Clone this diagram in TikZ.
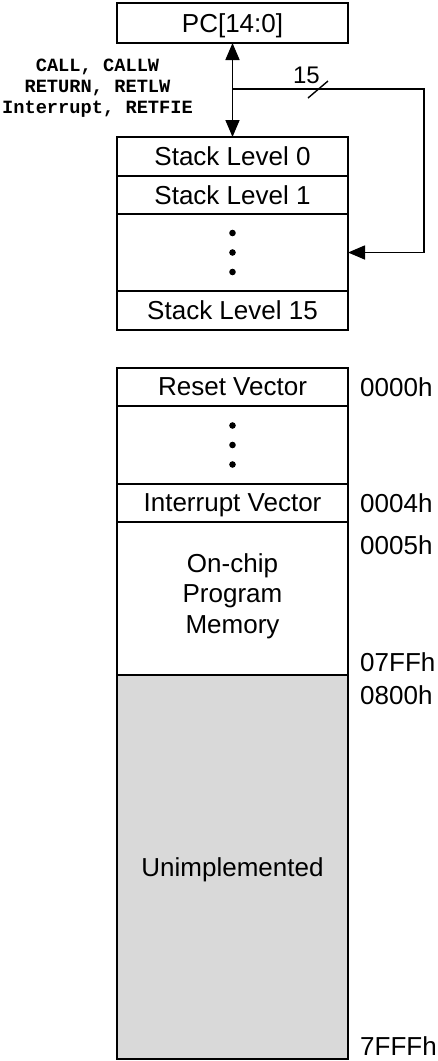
\documentclass[tikz,border=0pt]{standalone}
\usepackage{fontspec}
\setmainfont{Liberation Sans}
\newfontfamily\codefont{Liberation Mono}
\usetikzlibrary{arrows.meta,positioning}
\definecolor{unimplgray}{RGB}{217,217,217}
\definecolor{linecol}   {RGB}{  0,  0,  0}
\tikzset{
  %% One cell of the stack or of the memory map
  cell/.style={
    rectangle, draw=linecol, line width=1.8pt,
    minimum width=231pt, inner sep=0pt, outer sep=0pt,
    text depth=0pt, align=center,
    font=\fontsize{26}{27}\selectfont
  },
  %% Address label to the right of the map
  addr/.style={inner sep=0pt, text depth=0pt,
    font=\fontsize{26}{27}\selectfont},
  wire/.style={draw=linecol, line width=1.6pt},
  tip/.style={-{Triangle[length=17pt,width=14pt]}},
  instr/.style={align=center, inner sep=0pt,
    font=\codefont\bfseries\fontsize{18.7}{21}\selectfont},
  stackdot/.style={fill=linecol},
}

\begin{document}
\begin{tikzpicture}[x=1pt, y=-1pt, line cap=butt, line join=miter,
                    node distance=0pt]

  \useasboundingbox (0,0) rectangle (437,1061);

  %% ── Program counter ──────────────────────────────────────────────────
  \node[cell, minimum height=40pt] (pc) at (232.5,23) {PC[14:0]};

  %% ── Hardware stack ───────────────────────────────────────────────────
  \node[cell, minimum height=39pt, anchor=north] (stk0) at (232.5,137)
        {Stack Level 0};
  \node[cell, minimum height=38pt, below=of stk0] (stk1) {Stack Level 1};
  \node[cell, minimum height=77pt, below=of stk1] (stkdots) {};
  \node[cell, minimum height=39pt, below=of stkdots] (stk15)
        {Stack Level 15};

  \foreach \dy in {-19.5,0,19.5}{
    \fill[stackdot] (stkdots.center) ++(0,\dy) circle (3.3pt);
  }

  %% ── Stack connections ────────────────────────────────────────────────
  \draw[wire, {Triangle[length=17pt,width=14pt]}-{Triangle[length=17pt,width=14pt]}]
        (pc.south) -- (stk0.north);

  \coordinate (tap)    at (232.5,89);
  \coordinate (corner) at (424,89);
  \coordinate (slash)  at (318,89);
  \draw[wire, tip] (tap) -- (corner) |- (stkdots.east);
  \draw[wire, line width=1.4pt] (slash) ++(-10,9) -- ++(20,-17);
  \node[addr, font=\fontsize{24}{25}\selectfont] (buswidth) at (306.5,75.5) {15};

  \node[instr] (instrs) at (97.5,88)
        {CALL, CALLW\\RETURN, RETLW\\Interrupt, RETFIE};

  %% ── Program memory map ───────────────────────────────────────────────
  \node[cell, minimum height=38pt, anchor=north] (rstvec) at (232.5,368)
        {Reset Vector};
  \node[cell, minimum height=78pt, below=of rstvec] (memdots) {};
  \node[cell, minimum height=38pt, below=of memdots] (intvec)
        {Interrupt Vector};
  \node[cell, minimum height=153pt, below=of intvec, text depth=10pt,
        font=\fontsize{26}{30.5}\selectfont] (onchip)
        {On-chip\\Program\\Memory};
  \node[cell, minimum height=384pt, below=of onchip, fill=unimplgray]
        (unimpl) {Unimplemented};

  \foreach \dy in {-19.5,0,19.5}{
    \fill[stackdot] (memdots.center) ++(0,\dy) circle (3.3pt);
  }

  %% Addresses
  \node[addr, right=12pt of rstvec] (a0000) {0000h};
  \node[addr, right=12pt of intvec] (a0004) {0004h};
  \node[addr, anchor=north west] (a0005)
        at ([xshift=12pt, yshift=-13pt]onchip.north east) {0005h};
  \node[addr, anchor=south west] (a07ff)
        at ([xshift=12pt, yshift=3pt]onchip.south east) {07FFh};
  \node[addr, anchor=north west] (a0800)
        at ([xshift=12pt, yshift=-10pt]unimpl.north east) {0800h};
  \node[addr, anchor=south west] (a7fff)
        at ([xshift=12pt, yshift=3pt]unimpl.south east) {7FFFh};

\end{tikzpicture}
\end{document}
